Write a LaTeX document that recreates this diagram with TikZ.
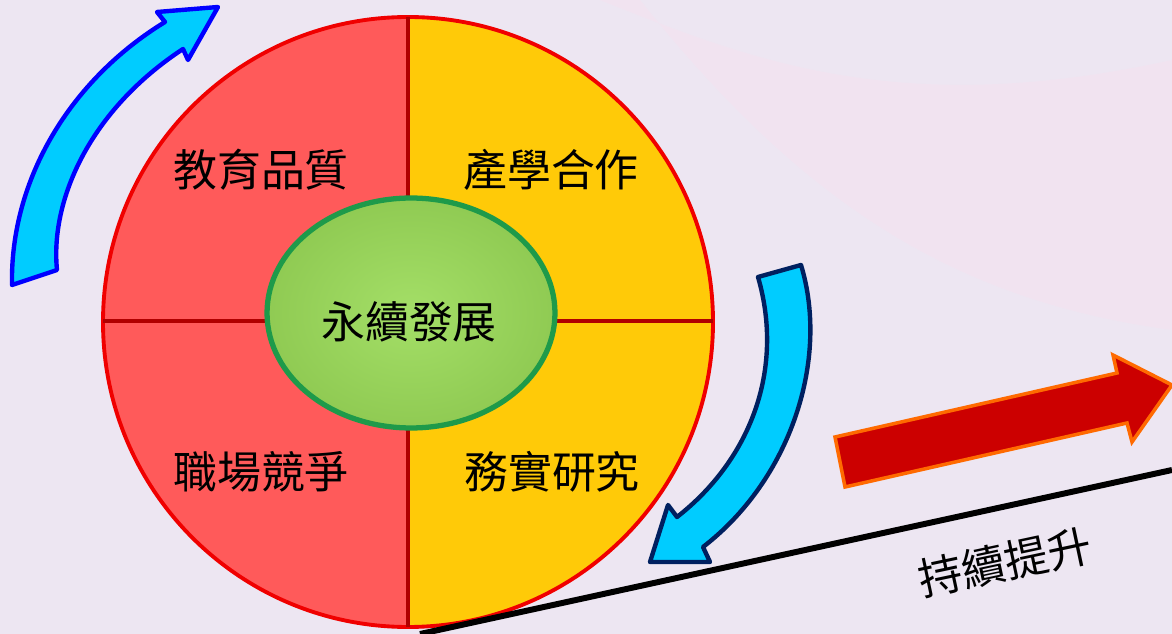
\documentclass[tikz,border=0pt]{standalone}
\usepackage{fontspec}
\newfontfamily\cjk{Noto Sans CJK TC}
\usepackage{xcolor}
\usetikzlibrary{shapes.geometric, positioning, calc}

\definecolor{bgpurple}{HTML}{EDE6F2}
\definecolor{bgpink}{HTML}{F5E2F0}
\definecolor{quadred}{HTML}{FF5A5A}
\definecolor{quadyellow}{HTML}{FFCA08}
\definecolor{rimred}{HTML}{F00000}
\definecolor{linered}{HTML}{B00000}
\definecolor{hubgreen}{HTML}{9CDC5A}
\definecolor{hubrim}{HTML}{1E9A4A}
\definecolor{cyanfill}{HTML}{00CCFF}
\definecolor{navyrim}{HTML}{002060}
\definecolor{arrowred}{HTML}{CC0000}
\definecolor{arroworange}{HTML}{FF6A00}

\begin{document}
\begin{tikzpicture}[
    x=0.02cm, y=-0.02cm,
    label/.style={font=\cjk\fontsize{25}{28}\selectfont, text=black, inner sep=0pt},
    hub/.style={ellipse, draw=hubrim, line width=3pt, inner color=hubgreen!92!white, outer color=hubgreen!92!black, minimum width=5.76cm, minimum height=4.6cm},
    bluearrow/.style={fill=cyanfill, line width=2.5pt, line join=round},
    bigarrow/.style={fill=arrowred, draw=arroworange, line width=2pt, line join=miter}
]

% === BACKGROUND ===
\fill[bgpurple] (0,0) rectangle (1172,634);
\fill[bgpink, opacity=0.6] (600,0) .. controls (750,60) and (900,120) .. (1172,60) -- (1172,330) .. controls (950,300) and (800,200) .. (640,0) -- cycle;
\useasboundingbox (0,0) rectangle (1172,634);

% === WHEEL ===
\coordinate (wheel) at (408,322);
\begin{scope}
    \clip (0,0) rectangle (408,634);
    \fill[quadred] (wheel) circle[radius=305];
\end{scope}
\begin{scope}
    \clip (408,0) rectangle (1172,634);
    \fill[quadyellow] (wheel) circle[radius=305];
\end{scope}
\draw[rimred, line width=2.2pt] (wheel) circle[radius=305];

% dividers
\draw[linered, line width=2pt] (408,17) -- (408,627);
\draw[linered, line width=2pt] (103,321) -- (713,321);

% === CENTRE ===
\node[hub] (core) at (411,313) {};
\node[label] (coretext) at (409,322) {永續發展};

% === QUADRANTS ===
\node[label] (quality) at (261,170) {教育品質};
\node[label] (industry) at (551,170) {產學合作};
\node[label] (career) at (261,472) {職場競爭};
\node[label] (research) at (552,472) {務實研究};

% === CYCLE ARROWS ===
\draw[bluearrow, draw=blue] (12,285) -- (57,270)
    .. controls (50,200) and (90,110) .. (183,49)
    -- (188,60) -- (218,7) -- (157,12) -- (165,22)
    .. controls (70,80) and (10,180) .. cycle;
\draw[bluearrow, draw=navyrim] (758,277) -- (801,265)
    .. controls (830,360) and (790,480) .. (703,547)
    -- (710,562) -- (650,562) -- (668,505) -- (677,517)
    .. controls (750,460) and (785,370) .. cycle;

% === GROWTH ===
\draw[bigarrow] (835,437) -- (1117,373) -- (1113,355) -- (1172,385)
    -- (1132,442) -- (1127,423) -- (845,487) -- cycle;
\coordinate (slopeA) at (420,634);
\coordinate (slopeB) at (1172,470);
\draw[black, line width=3.4pt] (slopeA) -- (slopeB);
\node[label, rotate=12] (growth) at (1005,562) {持續提升};

\end{tikzpicture}
\end{document}
